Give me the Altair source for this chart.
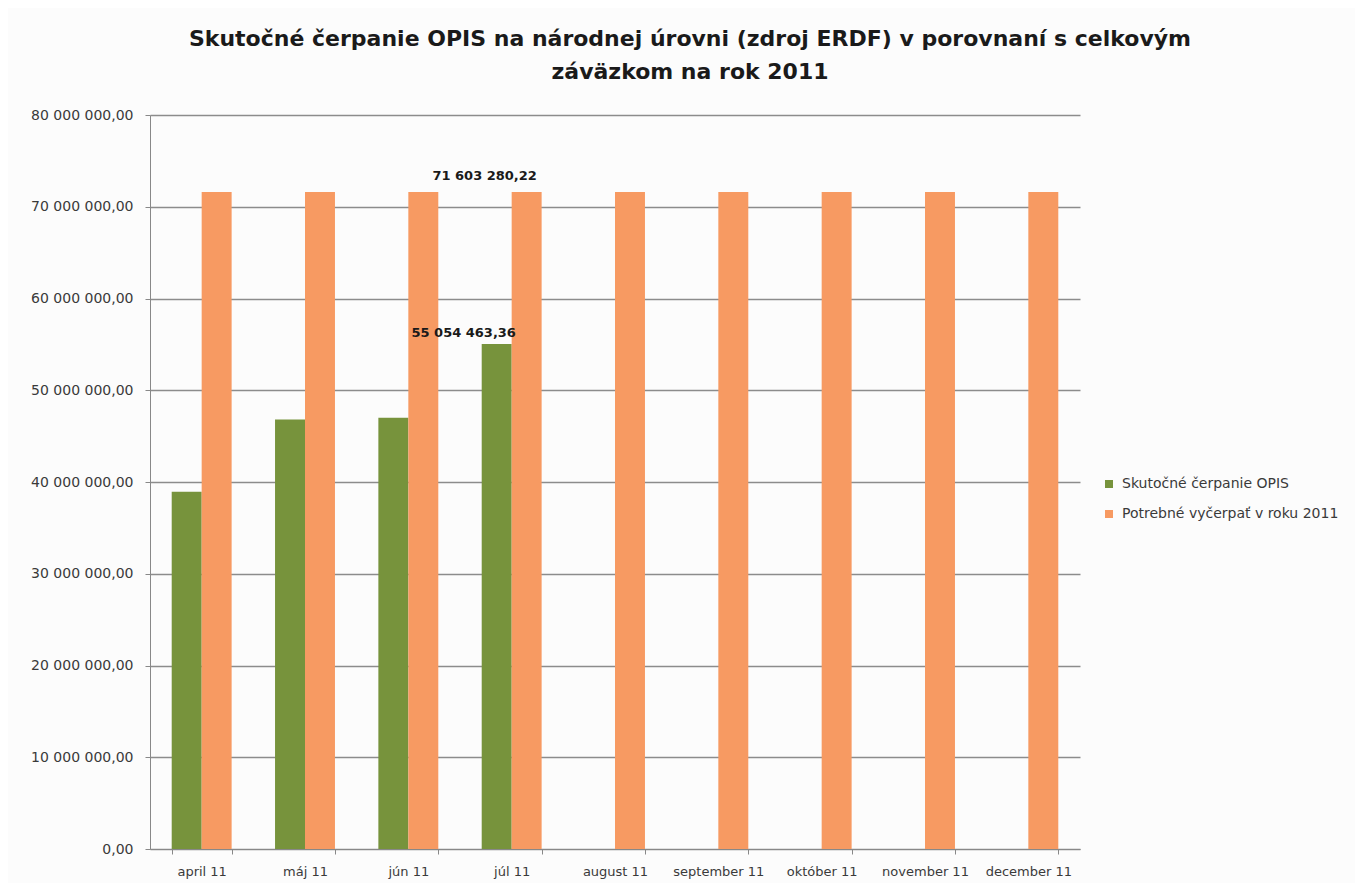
import altair as alt
import pandas as pd

months = ["april 11", "máj 11", "jún 11", "júl 11", "august 11", "september 11",
          "október 11", "november 11", "december 11"]
actual = [38.95e6, 46.8e6, 47.0e6, 55054463.36, None, None, None, None, None]
target = [71603280.22, 71603280.22, 71603280.22, 71603280.22, 71603280.22,
          71603280.22, 71603280.22, 71603280.22, 71603280.22]
series_names = ["Skutočné čerpanie OPIS", "Potrebné vyčerpať v roku 2011"]
colors = ["#77933C", "#F79A62"]

rows = []
for m, a, t in zip(months, actual, target):
    if a is not None:
        rows.append({"month": m, "series": series_names[0], "value": a})
    rows.append({"month": m, "series": series_names[1], "value": t})
df = pd.DataFrame(rows)

lab_target = pd.DataFrame([{"month": "júl 11", "series": series_names[1], "value": 71603280.22, "txt": "71 603 280,22"}])
lab_actual = pd.DataFrame([{"month": "júl 11", "series": series_names[0], "value": 55054463.36, "txt": "55 054 463,36"}])

FONT = "DejaVu Sans"

x = alt.X("month:N", sort=months, title=None,
          scale=alt.Scale(paddingInner=0.42, paddingOuter=0.21),
          axis=alt.Axis(labelAngle=0, tickBand="extent", labelFontSize=13,
                        labelColor="#3a3a3a", labelFont=FONT, domainColor="#888888",
                        tickColor="#888888", tickSize=5, labelPadding=11, grid=False))
xo = alt.XOffset("series:N", sort=series_names)
y = alt.Y("value:Q", title=None,
          scale=alt.Scale(domain=[0, 80000000]),
          axis=alt.Axis(values=list(range(0, 80000001, 10000000)),
                        labelExpr="replace(replace(format(datum.value, ',.2f'), regexp(',', 'g'), ' '), '.', ',')",
                        labelFontSize=14, labelColor="#3a3a3a", labelFont=FONT,
                        domainColor="#888888", tickColor="#888888", tickSize=5,
                        gridColor="#8C8C8C", gridWidth=1.3, labelPadding=12))

bars = alt.Chart(df).mark_bar().encode(
    x=x, xOffset=xo, y=y,
    color=alt.Color("series:N", sort=series_names,
                    scale=alt.Scale(domain=series_names, range=colors),
                    legend=alt.Legend(title=None, orient="none", legendX=952, legendY=362,
                                      symbolType="square", symbolSize=64, labelFontSize=14,
                                      labelFont=FONT, labelColor="#3a3a3a", rowPadding=16,
                                      labelLimit=0, symbolStrokeWidth=0, labelOffset=6)),
)

t1 = alt.Chart(lab_target).mark_text(
    fontWeight="bold", fontSize=13, font=FONT, color="#1a1a1a", baseline="alphabetic", dx=-42, dy=-12
).encode(x=alt.X("month:N", sort=months), xOffset=alt.XOffset("series:N", sort=series_names),
         y="value:Q", text="txt:N")
t2 = alt.Chart(lab_actual).mark_text(
    fontWeight="bold", fontSize=13, font=FONT, color="#1a1a1a", baseline="alphabetic", dx=-33, dy=-7
).encode(x=alt.X("month:N", sort=months), xOffset=alt.XOffset("series:N", sort=series_names),
         y="value:Q", text="txt:N")

chart = alt.layer(bars, t1, t2).properties(
    width=930, height=734,
    background="#FCFCFC",
    autosize=alt.AutoSizeParams(type="none"),
    padding={"left": 142, "top": 107, "right": 275, "bottom": 34},
    title=alt.TitleParams(
        text=["Skutočné čerpanie OPIS na národnej úrovni (zdroj ERDF) v porovnaní s celkovým",
              "záväzkom na rok 2011"],
        font=FONT, fontSize=22, fontWeight="bold", color="#1a1a1a",
        anchor="middle", frame="group", dx=75, offset=24, lineHeight=33),
).configure_view(stroke=None, strokeWidth=0)

chart.save("out.html", embed_options={"renderer": "svg", "actions": False})
